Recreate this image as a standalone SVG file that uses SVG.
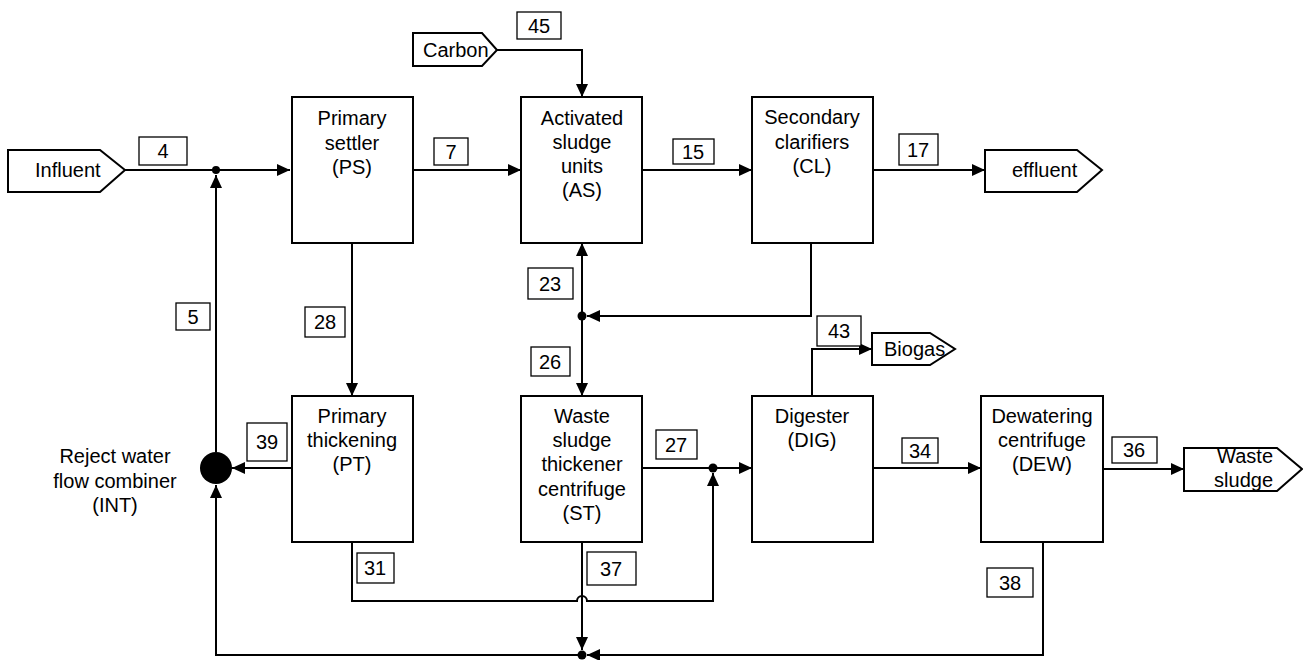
<svg xmlns="http://www.w3.org/2000/svg" width="1303" height="660" viewBox="0 0 1303 660">
<style>
text{font-family:"Liberation Sans",Arial,sans-serif;font-size:20px;fill:#000}
.c{text-anchor:middle}
.box{fill:#fff;stroke:#000;stroke-width:2}
.lbl{fill:#fff;stroke:#000;stroke-width:1.3}
.ln{fill:none;stroke:#000;stroke-width:2}
.ar{marker-end:url(#ah)}
</style>
<defs>
<marker id="ah" markerUnits="userSpaceOnUse" markerWidth="14" markerHeight="12" refX="13" refY="6" orient="auto">
<path d="M0,0 L13,6 L0,12 Z" fill="#000"/>
</marker>
</defs>
<g id="connectors">
<path class="ln ar" d="M125,170 H290"/>
<path class="ln ar" d="M216,452 V175"/>
<path class="ln ar" d="M413,170 H521"/>
<path class="ln ar" d="M497,50 H582 V97"/>
<path class="ln ar" d="M642,170 H752"/>
<path class="ln ar" d="M873,170 H985"/>
<path class="ln ar" d="M811,243 V316 H587"/>
<path class="ln ar" d="M582,316 V243"/>
<path class="ln ar" d="M582,316 V396"/>
<path class="ln ar" d="M352,243 V396"/>
<path class="ln ar" d="M292,468 H232"/>
<path class="ln ar" d="M642,468 H752"/>
<path class="ln ar" d="M352,542 V601 H577 A5,5 0 0 1 587,601 H713 V473"/>
<path class="ln ar" d="M582,542 V650"/>
<path class="ln ar" d="M1043,542 V655 H587"/>
<path class="ln ar" d="M582,655 H216 V485"/>
<path class="ln ar" d="M873,468 H981"/>
<path class="ln ar" d="M1103,469 H1184"/>
<path class="ln ar" d="M812,396 V349 H872"/>
<circle cx="216" cy="170" r="4"/>
<circle cx="582" cy="316" r="4.5"/>
<circle cx="713" cy="468" r="4.5"/>
<circle cx="582" cy="655" r="4.5"/>
</g>
<g id="influent">
<path class="box" d="M8,150 H100 L125,170 L100,192 H8 Z"/>
<text x="35" y="177">Influent</text>
</g>
<g id="carbon">
<path class="box" d="M413,33 H482 L497,50 L482,66 H413 Z"/>
<text x="423" y="57">Carbon</text>
</g>
<g id="effluent">
<path class="box" d="M985,150 H1077 L1102,170 L1077,192 H985 Z"/>
<text x="1012" y="177">effluent</text>
</g>
<g id="biogas">
<path class="box" d="M872,333 H930 L955,349 L930,365 H872 Z"/>
<text x="884" y="356">Biogas</text>
</g>
<g id="wastesludge">
<path class="box" d="M1184,448 H1277 L1302,469 L1277,491 H1184 Z"/>
<text x="1273" y="463" text-anchor="end">Waste</text>
<text x="1273" y="487" text-anchor="end">sludge</text>
</g>
<g id="PS">
<rect class="box" x="292" y="97" width="121" height="146"/>
<text class="c" x="352" y="125">Primary</text>
<text class="c" x="352" y="150">settler</text>
<text class="c" x="352" y="174">(PS)</text>
</g>
<g id="AS">
<rect class="box" x="521" y="97" width="121" height="146"/>
<text class="c" x="582" y="125">Activated</text>
<text class="c" x="582" y="149">sludge</text>
<text class="c" x="582" y="173">units</text>
<text class="c" x="582" y="197">(AS)</text>
</g>
<g id="CL">
<rect class="box" x="752" y="97" width="121" height="146"/>
<text class="c" x="812" y="124">Secondary</text>
<text class="c" x="812" y="149">clarifiers</text>
<text class="c" x="812" y="173">(CL)</text>
</g>
<g id="PT">
<rect class="box" x="292" y="396" width="121" height="146"/>
<text class="c" x="352" y="423">Primary</text>
<text class="c" x="352" y="447">thickening</text>
<text class="c" x="352" y="471">(PT)</text>
</g>
<g id="ST">
<rect class="box" x="521" y="396" width="121" height="146"/>
<text class="c" x="582" y="423">Waste</text>
<text class="c" x="582" y="447">sludge</text>
<text class="c" x="582" y="471">thickener</text>
<text class="c" x="582" y="496">centrifuge</text>
<text class="c" x="582" y="520">(ST)</text>
</g>
<g id="DIG">
<rect class="box" x="752" y="396" width="121" height="146"/>
<text class="c" x="812" y="423">Digester</text>
<text class="c" x="812" y="447">(DIG)</text>
</g>
<g id="DEW">
<rect class="box" x="981" y="396" width="122" height="146"/>
<text class="c" x="1042" y="423">Dewatering</text>
<text class="c" x="1042" y="447">centrifuge</text>
<text class="c" x="1042" y="471">(DEW)</text>
</g>
<g id="INT">
<circle cx="216" cy="468" r="16" fill="#000"/>
<text class="c" x="115" y="463">Reject water</text>
<text class="c" x="115" y="488">flow combiner</text>
<text class="c" x="115" y="512">(INT)</text>
</g>
<g id="labels">
<rect class="lbl" x="139" y="137" width="48" height="28"/><text class="c" x="163" y="158">4</text>
<rect class="lbl" x="517" y="12" width="44" height="27"/><text class="c" x="539" y="33">45</text>
<rect class="lbl" x="434" y="138" width="34" height="27"/><text class="c" x="451" y="159">7</text>
<rect class="lbl" x="673" y="139" width="41" height="25"/><text class="c" x="693" y="159">15</text>
<rect class="lbl" x="899" y="134" width="39" height="31"/><text class="c" x="918" y="157">17</text>
<rect class="lbl" x="528" y="268" width="45" height="31"/><text class="c" x="550" y="291">23</text>
<rect class="lbl" x="531" y="347" width="39" height="29"/><text class="c" x="550" y="369">26</text>
<rect class="lbl" x="305" y="307" width="40" height="30"/><text class="c" x="325" y="329">28</text>
<rect class="lbl" x="176" y="303" width="34" height="27"/><text class="c" x="193" y="324">5</text>
<rect class="lbl" x="247" y="423" width="40" height="38"/><text class="c" x="267" y="449">39</text>
<rect class="lbl" x="656" y="430" width="41" height="29"/><text class="c" x="676" y="452">27</text>
<rect class="lbl" x="902" y="438" width="36" height="25"/><text class="c" x="920" y="458">34</text>
<rect class="lbl" x="1112" y="437" width="45" height="26"/><text class="c" x="1134" y="457">36</text>
<rect class="lbl" x="817" y="316" width="44" height="30"/><text class="c" x="839" y="338">43</text>
<rect class="lbl" x="357" y="553" width="37" height="30"/><text class="c" x="375" y="575">31</text>
<rect class="lbl" x="587" y="552" width="49" height="33"/><text class="c" x="611" y="576">37</text>
<rect class="lbl" x="987" y="568" width="46" height="29"/><text class="c" x="1010" y="590">38</text>
</g>
</svg>
